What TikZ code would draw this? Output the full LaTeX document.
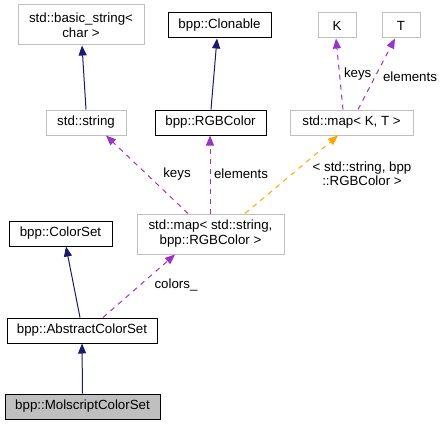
\documentclass[tikz,border=0pt]{standalone}
\usepackage{fontspec}
\setmainfont{Liberation Sans}
\usetikzlibrary{arrows.meta}
\definecolor{navyarr}{HTML}{191970}
\definecolor{purparr}{HTML}{9A32CD}
\definecolor{orgarr}{HTML}{FFA500}
\definecolor{graybd}{HTML}{BFBFBF}
\begin{document}
\begin{tikzpicture}[x=1pt,y=-1pt,
  every node/.style={font=\fontsize{13.3}{15}\selectfont, inner sep=0pt, align=center},
  blackbox/.style={draw=black, line width=1pt, rectangle},
  graybox/.style={draw=graybd, line width=1pt, rectangle},
  curbox/.style={draw=black, fill=graybd, line width=1pt, rectangle},
  inh/.style={draw=navyarr, line width=1pt, -{Triangle[length=10pt,width=8pt]}},
  usep/.style={draw=purparr, line width=1pt, dash pattern=on 5pt off 5pt, -{Triangle[length=10pt,width=8pt]}},
  tmpl/.style={draw=orgarr, line width=1pt, dash pattern=on 5pt off 5pt, -{Triangle[length=10pt,width=8pt]}},
  lbl/.style={font=\fontsize{13.3}{14}\selectfont}
]
\useasboundingbox (0,0) rectangle (443,425);
\node[graybox, minimum width=126, minimum height=40] (bs) at (81,25) {std::basic\_string<\\char >};
\node[blackbox, minimum width=103, minimum height=25] (clon) at (219.5,25.5) {bpp::Clonable};
\node[graybox, minimum width=38, minimum height=25] (K) at (337,25.5) {K};
\node[graybox, minimum width=38, minimum height=25] (T) at (401,25.5) {T};
\node[graybox, minimum width=80, minimum height=25] (str) at (86,122.5) {std::string};
\node[blackbox, minimum width=111, minimum height=25] (rgb) at (210.5,122.5) {bpp::RGBColor};
\node[graybox, minimum width=123, minimum height=25] (mapKT) at (351.5,122.5) {std::map< K, T >};
\node[graybox, minimum width=147, minimum height=40] (bigmap) at (210.5,234) {std::map< std::string,\\ bpp::RGBColor >};
\node[blackbox, minimum width=103, minimum height=25] (cs) at (60.5,233.5) {bpp::ColorSet};
\node[blackbox, minimum width=150, minimum height=25] (acs) at (82,330.5) {bpp::AbstractColorSet};
\node[curbox, minimum width=155, minimum height=25] (mol) at (82.5,406.5) {bpp::MolscriptColorSet};

\draw[inh] (str.north) -- ([xshift=1]bs.south);
\draw[inh] ([xshift=0.5]rgb.north) -- ([xshift=-2.5]clon.south);
\draw[usep] ([xshift=-8.5]mapKT.north) -- ([xshift=-1]K.south) node[lbl, pos=0.5, right=4pt] {keys};
\draw[usep] ([xshift=6.5]mapKT.north) -- ([xshift=-6]T.south);
\node[lbl] (lT) at (410,77) {elements};
\draw[usep] ([xshift=-22.5]bigmap.north) -- ([xshift=20]str.south);
\node[lbl] (lk2) at (177,174) {keys};
\draw[usep] ([xshift=-0.5]bigmap.north) -- ([xshift=-0.5]rgb.south);
\node[lbl] (le2) at (241,174) {elements};
\draw[tmpl] ([xshift=34.5]bigmap.north) -- ([xshift=-13.5]mapKT.south);
\node[lbl] (lt) at (362,174) {< std::string, bpp\\::RGBColor >};
\draw[inh] ([xshift=-2]acs.north) -- ([xshift=5.5]cs.south);
\draw[usep] ([xshift=21]acs.north) -- ([xshift=-35.5]bigmap.south);
\node[lbl] (lc) at (176,285) {colors\_};
\draw[inh] (mol.north) -- (acs.south);
\end{tikzpicture}
\end{document}
